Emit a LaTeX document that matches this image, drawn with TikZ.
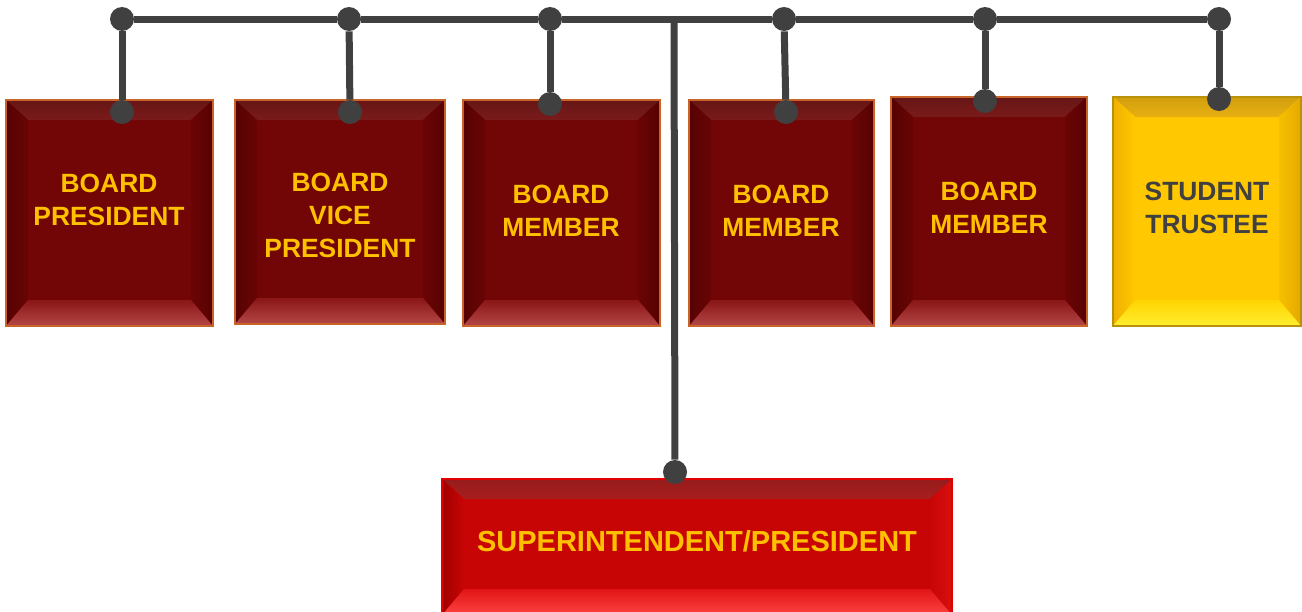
\documentclass[tikz,border=0pt]{standalone}
\usepackage{fontspec}
\setmainfont{Liberation Sans}

\definecolor{boardred}{HTML}{720505}
\definecolor{boardtop}{HTML}{7A1A1A}
\definecolor{boardside}{HTML}{560202}
\definecolor{boardlow}{HTML}{8A1616}
\definecolor{boardlight}{HTML}{B44646}
\definecolor{boardedge}{HTML}{C8642A}
\definecolor{trusteefill}{HTML}{FFC800}
\definecolor{trusteetop}{HTML}{E8B010}
\definecolor{trusteeside}{HTML}{F0B000}
\definecolor{trusteeright}{HTML}{E8A800}
\definecolor{trusteelow}{HTML}{FFD400}
\definecolor{trusteelight}{HTML}{FFEE30}
\definecolor{trusteeedge}{HTML}{B8920A}
\definecolor{superfill}{HTML}{C80505}
\definecolor{supertop}{HTML}{A81E1E}
\definecolor{superside}{HTML}{A00000}
\definecolor{superright}{HTML}{D81010}
\definecolor{superlow}{HTML}{E01515}
\definecolor{superlight}{HTML}{FF4242}
\definecolor{superedge}{HTML}{E00000}
\definecolor{gold}{HTML}{FFC000}
\definecolor{wire}{HTML}{404040}

\tikzset{
  bevelbox/.style n args={6}{draw=#6, line width=0.6pt, fill=#1, inner sep=0pt,
    path picture={
      \coordinate (nw) at (path picture bounding box.north west);
      \coordinate (ne) at (path picture bounding box.north east);
      \coordinate (sw) at (path picture bounding box.south west);
      \coordinate (se) at (path picture bounding box.south east);
      \fill[#2] (nw) -- (ne) -- ([shift={(-11pt,-10pt)}]ne) -- ([shift={(11pt,-10pt)}]nw) -- cycle;
      \fill[#3] (nw) -- ([shift={(11pt,-10pt)}]nw) -- ([shift={(11pt,13pt)}]sw) -- (sw) -- cycle;
      \fill[#4] (ne) -- ([shift={(-11pt,-10pt)}]ne) -- ([shift={(-11pt,13pt)}]se) -- (se) -- cycle;
      \fill[#5] (sw) -- ([shift={(11pt,13pt)}]sw) -- ([shift={(-11pt,13pt)}]se) -- (se) -- cycle;
    }},
  boardbox/.style={bevelbox={boardred}{top color=boardtop!85!black, bottom color=boardtop}%
    {left color=boardside, right color=boardred!92!black}%
    {left color=boardred!94!black, right color=boardside}%
    {top color=boardlow, bottom color=boardlight}{boardedge}},
  trusteebox/.style={bevelbox={trusteefill}{top color=trusteetop!90!black, bottom color=trusteetop}%
    {left color=trusteeside, right color=trusteefill}%
    {left color=trusteefill!96!black, right color=trusteeright}%
    {top color=trusteelow, bottom color=trusteelight}{trusteeedge}},
  superbox/.style={bevelbox={superfill}{top color=supertop!90!black, bottom color=supertop}%
    {left color=superside, right color=superfill}%
    {left color=superfill, right color=superright}%
    {top color=superlow, bottom color=superlight}{superedge}},
  boardtxt/.style={text=gold, font=\bfseries\fontsize{13.2}{16.5}\selectfont, align=center},
  trusteetxt/.style={boardtxt, text=wire},
  supertxt/.style={boardtxt, font=\bfseries\fontsize{14.5}{17}\selectfont},
  dot/.style={circle, fill=wire, minimum size=12pt, inner sep=0pt},
  wireline/.style={draw=wire, line width=3.5pt}
}

\begin{document}
\begin{tikzpicture}[x=0.5pt, y=-0.5pt]
  \useasboundingbox (0,0) rectangle (1302,611);

  % boxes
  \node[boardbox, minimum width=103.5pt, minimum height=113pt] (bp) at (109.5,213) {};
  \node[boardbox, minimum width=105pt, minimum height=112pt] (bvp) at (340,212) {};
  \node[boardbox, minimum width=98.5pt, minimum height=113pt] (bm1) at (561.5,213) {};
  \node[boardbox, minimum width=92.5pt, minimum height=113pt] (bm2) at (781.5,213) {};
  \node[boardbox, minimum width=98pt, minimum height=114.5pt] (bm3) at (989,211.5) {};
  \node[trusteebox, minimum width=94pt, minimum height=114.5pt] (st) at (1207,211.5) {};
  \node[superbox, minimum width=255pt, minimum height=68pt] (sp) at (697,547) {};

  % texts
  \node[boardtxt] (bpt) at (109,200) {BOARD\\PRESIDENT};
  \node[boardtxt] (bvpt) at (340,215) {BOARD\\VICE\\PRESIDENT};
  \node[boardtxt] (bm1t) at (561,211) {BOARD\\MEMBER};
  \node[boardtxt] (bm2t) at (781,211) {BOARD\\MEMBER};
  \node[boardtxt] (bm3t) at (989,208) {BOARD\\MEMBER};
  \node[trusteetxt] (stt) at (1207,208) {STUDENT\\TRUSTEE};
  \node[supertxt] (spt) at (697,541) {SUPERINTENDENT/PRESIDENT};

  % top bar
  \node[dot] (d1) at (122,19) {};
  \node[dot] (d2) at (349,19) {};
  \node[dot] (d3) at (550,19) {};
  \node[dot] (d4) at (784,19) {};
  \node[dot] (d5) at (985,19) {};
  \node[dot] (d6) at (1219,19) {};
  \coordinate (j) at (674,19);

  % hooks
  \node[dot] (h1) at (122,112) {};
  \node[dot] (h2) at (350,112) {};
  \node[dot] (h3) at (550,104) {};
  \node[dot] (h4) at (786,112) {};
  \node[dot] (h5) at (985,101) {};
  \node[dot] (h6) at (1219,99) {};
  \node[dot] (h7) at (675,472) {};

  \draw[wireline] (d1) -- (d2) -- (d3) -- (d4) -- (d5) -- (d6);
  \draw[wireline] (d1) -- (h1);
  \draw[wireline] (d2) -- (h2);
  \draw[wireline] (d3) -- (h3);
  \draw[wireline] (d4) -- (h4);
  \draw[wireline] (d5) -- (h5);
  \draw[wireline] (d6) -- (h6);
  \draw[wireline] (j) -- (h7);
\end{tikzpicture}
\end{document}
